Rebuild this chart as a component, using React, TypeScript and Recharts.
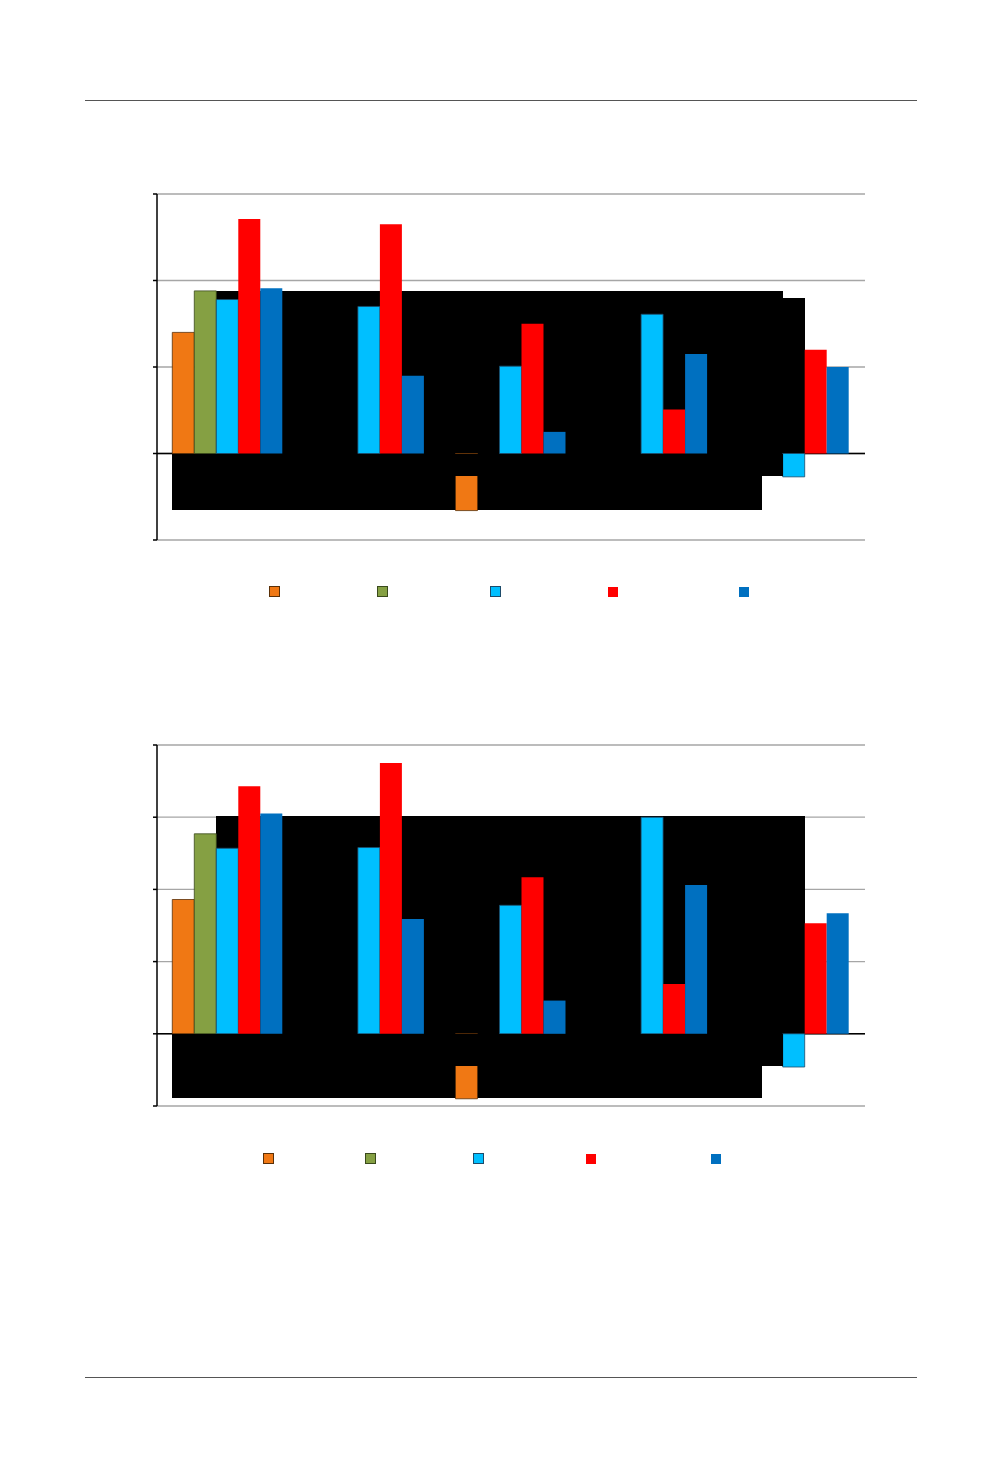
import React from 'react';
import { BarChart, Bar, XAxis, YAxis, CartesianGrid, ReferenceLine } from 'recharts';

// ---------- data ----------
const categories = ['G1', 'G2', 'G3', 'G4', 'G5'];
const seriesKeys = ['s1', 's2', 's3', 's4', 's5'];

// chart 1
const c1Orange = [1.4, null, -0.66, null, null];
const c1Green = [1.88, null, null, null, null];
const c1Cyan = [1.78, 1.7, 1.01, 1.61, -0.27];
const c1Red = [2.71, 2.65, 1.5, 0.51, 1.2];
const c1Blue = [1.91, 0.9, 0.25, 1.15, 1.0];
const c1Ticks = [-1, 0, 1, 2, 3];

// chart 2
const c2Orange = [1.86, null, -0.9, null, null];
const c2Green = [2.77, null, null, null, null];
const c2Cyan = [2.57, 2.58, 1.78, 3.0, -0.46];
const c2Red = [3.43, 3.75, 2.17, 0.69, 1.53];
const c2Blue = [3.05, 1.59, 0.46, 2.06, 1.67];
const c2Ticks = [-1, 0, 1, 2, 3, 4];

// ---------- styles ----------
const fills = ['#F07814', '#85A043', '#00BFFF', '#FF0000', '#0070C0'];
const strokes = ['#5a3008', '#3a4a1c', '#1d4b6a', 'none', 'none'];
const legendSizes = [11, 11, 11, 10, 10];

type Box = [number, number, number, number];

function buildRows(series: (number | null)[][]) {
  return categories.map((cat, i) => {
    const row: Record<string, any> = { cat };
    seriesKeys.forEach((k, j) => {
      row[k] = series[j][i];
    });
    return row;
  });
}

const M = 10;

interface PanelProps {
  rows: Record<string, any>[];
  ticks: number[];
  left: number;
  top: number;
  plotW: number;
  plotH: number;
  under: Box[];
  over: Box[];
  legendTop: number;
  legendLefts: number[];
}

function BlackBoxes({ boxes }: { boxes: Box[] }) {
  return (
    <>
      {boxes.map((b, i) => (
        <div
          key={i}
          style={{ position: 'absolute', left: b[0], top: b[1], width: b[2], height: b[3], background: '#000' }}
        />
      ))}
    </>
  );
}

function Panel({ rows, ticks, left, top, plotW, plotH, under, over, legendTop, legendLefts }: PanelProps) {
  const domain = [ticks[0], ticks[ticks.length - 1]];
  const W = plotW + 2 * M;
  const H = plotH + 2 * M;
  return (
    <>
      <div style={{ position: 'absolute', left: left - M, top: top - M }}>
        <BarChart width={W} height={H} data={rows} margin={{ top: M, right: M, bottom: M, left: 0 }}>
          <CartesianGrid vertical={false} stroke="#a6a6a6" strokeWidth={1.3} />
          <XAxis dataKey="cat" hide />
          <YAxis
            width={M}
            domain={domain}
            ticks={ticks}
            interval={0}
            allowDataOverflow
            tick={() => <g />}
            tickSize={4}
            axisLine={{ stroke: '#000', strokeWidth: 1.5 }}
            tickLine={{ stroke: '#000', strokeWidth: 1.5 }}
          />
          <ReferenceLine y={0} stroke="#000" strokeWidth={1.5} />
        </BarChart>
      </div>
      <BlackBoxes boxes={under} />
      <div style={{ position: 'absolute', left: left - M, top: top - M }}>
        <BarChart
          width={W}
          height={H}
          data={rows}
          margin={{ top: M, right: M, bottom: M, left: M }}
          barCategoryGap="10.8%"
          barGap={0}
        >
          <XAxis dataKey="cat" hide />
          <YAxis hide domain={domain} ticks={ticks} allowDataOverflow />
          {seriesKeys.map((k, j) => (
            <Bar
              key={k}
              dataKey={k}
              fill={fills[j]}
              stroke={strokes[j]}
              strokeWidth={strokes[j] === 'none' ? 0 : 0.8}
              isAnimationActive={false}
            />
          ))}
        </BarChart>
      </div>
      <BlackBoxes boxes={over} />
      {legendLefts.map((x, j) => (
        <div
          key={j}
          style={{
            position: 'absolute',
            left: x,
            top: legendTop + (legendSizes[j] === 11 ? 0 : 0.5),
            width: legendSizes[j],
            height: legendSizes[j],
            boxSizing: 'border-box',
            background: fills[j],
            border: strokes[j] === 'none' ? 'none' : `1px solid ${strokes[j]}`,
          }}
        />
      ))}
    </>
  );
}

const rows1 = buildRows([c1Orange, c1Green, c1Cyan, c1Red, c1Blue]);
const rows2 = buildRows([c2Orange, c2Green, c2Cyan, c2Red, c2Blue]);

export default function App() {
  return (
    <div style={{ position: 'absolute', left: 0, top: 0, width: 1002, height: 1475, background: '#fff', overflow: 'hidden' }}>
      <div style={{ position: 'absolute', left: 85, top: 100, width: 832, height: 1.3, background: '#555' }} />
      <div style={{ position: 'absolute', left: 85, top: 1376.5, width: 832, height: 1.3, background: '#555' }} />
      <Panel
        rows={rows1}
        ticks={c1Ticks}
        left={157}
        top={194}
        plotW={708}
        plotH={346}
        under={[
          [216, 291, 567, 162],
          [783, 298, 22, 155],
          [172, 476, 590, 34],
        ]}
        over={[[172, 454, 611, 22]]}
        legendTop={586}
        legendLefts={[269, 377, 490, 608, 739]}
      />
      <Panel
        rows={rows2}
        ticks={c2Ticks}
        left={157}
        top={745}
        plotW={708}
        plotH={361}
        under={[
          [216, 816, 589, 217],
          [172, 1066, 590, 32],
        ]}
        over={[[172, 1034, 611, 32]]}
        legendTop={1153}
        legendLefts={[263, 365, 473, 586, 711]}
      />
    </div>
  );
}
